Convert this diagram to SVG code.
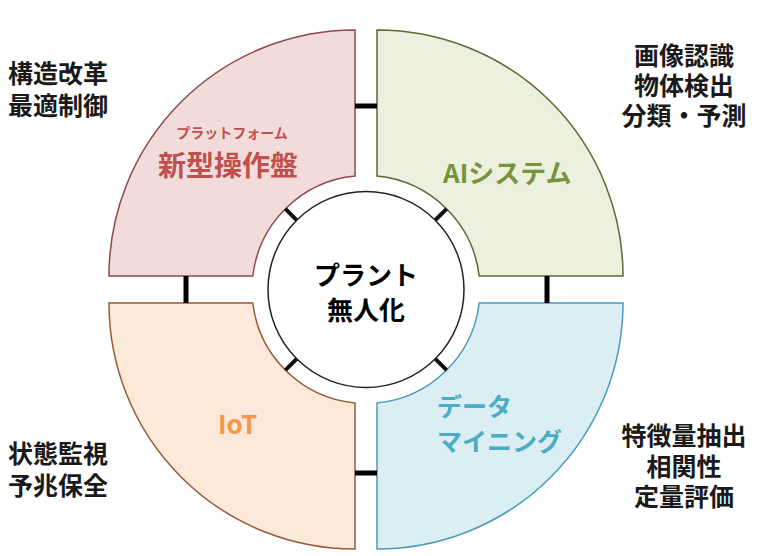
<svg xmlns="http://www.w3.org/2000/svg" width="781" height="556" viewBox="0 0 781 556">
<style>
text{font-family:"Noto Sans CJK JP","Noto Sans",sans-serif;font-weight:bold}
.side{font-family:"Liberation Sans","Noto Sans CJK JP",sans-serif;font-size:25px;fill:#1a1a1a}
.mid{text-anchor:middle}
.q{stroke-width:1.5}
.bar{stroke:#000;stroke-width:5;fill:none}
.tick{stroke:#111;stroke-width:4;fill:none}
</style>
<rect width="781" height="556" fill="#ffffff"/>
<g id="node-platform">
<path class="q" d="M355,30 L355,176 A114,114 0 0,0 252.8,276 L109,276 A246,246 0 0,1 355,30 Z" fill="#f2dcdb" stroke="#8e4a48"/>
<text x="232" y="138" class="mid" font-size="14" fill="#c0504d">プラットフォーム</text>
<text x="228" y="176" class="mid" font-size="28" fill="#c0504d">新型操作盤</text>
</g>
<g id="node-ai">
<path class="q" d="M377,30 L377,176 A114,114 0 0,1 479.2,276 L623,276 A246,246 0 0,0 377,30 Z" fill="#ebf1de" stroke="#5a6b34"/>
<text x="443" y="183" font-size="26" fill="#77933c">AIシステム</text>
</g>
<g id="node-iot">
<path class="q" d="M355,549 L355,403 A114,114 0 0,1 252.8,303 L109,303 A246,246 0 0,0 355,549 Z" fill="#fde9d9" stroke="#9a5a36"/>
<text x="218" y="434" font-size="26" fill="#f79646">IoT</text>
</g>
<g id="node-datamining">
<path class="q" d="M377,549 L377,403 A114,114 0 0,0 479.2,303 L623,303 A246,246 0 0,1 377,549 Z" fill="#daeef3" stroke="#4a9bb8"/>
<text font-size="25" fill="#4bacc6"><tspan x="437" y="416">データ</tspan><tspan x="437" y="451">マイニング</tspan></text>
</g>
<g id="connectors">
<line class="bar" x1="355" y1="106" x2="377" y2="106"/>
<line class="bar" x1="355" y1="473" x2="377" y2="473"/>
<line class="bar" x1="186" y1="276" x2="186" y2="303"/>
<line class="bar" x1="547" y1="276" x2="547" y2="303"/>
<line class="tick" x1="296.7" y1="220.2" x2="285.4" y2="208.9"/>
<line class="tick" x1="435.3" y1="220.2" x2="446.6" y2="208.9"/>
<line class="tick" x1="296.7" y1="358.8" x2="285.4" y2="370.1"/>
<line class="tick" x1="435.3" y1="358.8" x2="446.6" y2="370.1"/>
</g>
<g id="node-center">
<circle cx="366" cy="289.5" r="98" fill="#ffffff" stroke="#222" stroke-width="1.5"/>
<text class="mid" font-size="26" fill="#000"><tspan x="366" y="285">プラント</tspan><tspan x="366" y="320">無人化</tspan></text>
</g>
<g id="label-tl">
<text class="side"><tspan x="8" y="83">構造改革</tspan><tspan x="8" y="115">最適制御</tspan></text>
</g>
<g id="label-tr">
<text class="side mid"><tspan x="684" y="65">画像認識</tspan><tspan x="684" y="95">物体検出</tspan><tspan x="684" y="125">分類・予測</tspan></text>
</g>
<g id="label-bl">
<text class="side"><tspan x="8" y="463">状態監視</tspan><tspan x="8" y="495">予兆保全</tspan></text>
</g>
<g id="label-br">
<text class="side mid"><tspan x="684" y="445">特徴量抽出</tspan><tspan x="684" y="476">相関性</tspan><tspan x="684" y="506">定量評価</tspan></text>
</g>
</svg>
